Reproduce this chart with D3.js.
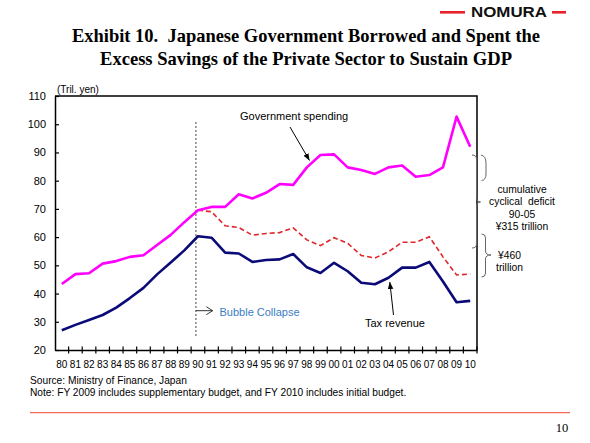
<!DOCTYPE html>
<html>
<head>
<meta charset="utf-8">
<script src="https://cdn.jsdelivr.net/npm/d3@7"></script>
<style>
  html, body { margin: 0; padding: 0; background: #fff; }
  svg { display: block; }
  text { font-family: "Liberation Sans", Arial, sans-serif; white-space: pre; }
</style>
</head>
<body>
<svg id="chart" width="590" height="443"></svg>
<script>
// ---------------- data ----------------
const years = ["80","81","82","83","84","85","86","87","88","89","90","91","92","93","94","95","96","97","98","99","00","01","02","03","04","05","06","07","08","09","10"];
const govSpending = [43.4,46.9,47.2,50.6,51.5,53.0,53.6,57.2,60.8,65.3,69.5,70.7,70.7,75.2,73.7,75.7,78.8,78.5,84.7,89.1,89.3,84.7,83.8,82.4,84.7,85.4,81.4,82.0,84.7,102.7,92.0];
const taxRevenue = [27.0,28.9,30.6,32.4,35.0,38.4,42.0,46.8,51.0,55.3,60.3,59.8,54.5,54.2,51.2,51.9,52.1,54.0,49.3,47.3,50.9,47.9,43.8,43.3,45.6,49.2,49.2,51.2,44.3,36.9,37.4];
const cyclicalRevenue = [null,null,null,null,null,null,null,null,null,null,69.5,69.0,64.0,63.4,60.7,61.3,61.6,63.3,59.0,57.0,59.8,57.8,53.5,52.6,54.8,58.2,58.2,60.1,53.0,46.6,46.9];
const yTicks = [20,30,40,50,60,70,80,90,100,110];
const bubbleYear = "90";

// ---------------- setup ----------------
const svg = d3.select("#chart");
const plot = { left: 55, right: 477, top: 96, bottom: 350 };

const x = d3.scaleBand().domain(years).range([plot.left, plot.right]).padding(0);
const y = d3.scaleLinear().domain([20, 110]).range([plot.bottom, plot.top]);
const cx = d => x(d) + x.bandwidth() / 2;

// header logo
svg.append("rect").attr("x", 440).attr("y", 11).attr("width", 25).attr("height", 2.6).attr("fill", "#e8202a");
svg.append("rect").attr("x", 552).attr("y", 11).attr("width", 14).attr("height", 2.6).attr("fill", "#e8202a");
svg.append("text").attr("x", 471).attr("y", 16.8).attr("textLength", 76).attr("lengthAdjust", "spacingAndGlyphs")
  .attr("font-size", 14.5).attr("font-weight", "bold").attr("fill", "#111").text("NOMURA");

// title
const titleLines = ["Exhibit 10.  Japanese Government Borrowed and Spent the", "Excess Savings of the Private Sector to Sustain GDP"];
const titleLens = [468, 412];
const titleY = [41.7, 64.5];
titleLines.forEach((t, i) => {
  svg.append("text").attr("x", 306).attr("y", titleY[i]).attr("text-anchor", "middle")
    .attr("textLength", titleLens[i]).attr("lengthAdjust", "spacingAndGlyphs")
    .style("font-family", '"Liberation Serif", "Times New Roman", serif')
    .attr("font-size", 19.5).attr("font-weight", "bold").attr("fill", "#000").text(t);
});

// unit label
svg.append("text").attr("x", 57).attr("y", 92.5).attr("font-size", 10).attr("fill", "#000").text("(Tril. yen)");

// frame (top & right)
svg.append("path").attr("d", `M${plot.left},${plot.top}H${plot.right}V${plot.bottom}`)
  .attr("fill", "none").attr("stroke", "#000").attr("stroke-width", 1.5);

// y axis
const yAxis = d3.axisLeft(y).tickValues(yTicks).tickSizeInner(-4).tickSizeOuter(0).tickPadding(9);
const gy = svg.append("g").attr("transform", `translate(${plot.left},0)`).call(yAxis);
gy.select(".domain").attr("stroke-width", 1.5);
gy.selectAll("line").attr("stroke-width", 1.2);
gy.selectAll("text").attr("font-size", 11).attr("fill", "#000").style("font-family", '"Liberation Sans", Arial, sans-serif');

// x axis labels
const xAxis = d3.axisBottom(x).tickSize(0).tickPadding(11);
const gx = svg.append("g").attr("transform", `translate(0,${plot.bottom})`).call(xAxis);
gx.select(".domain").attr("stroke-width", 1.5);
gx.selectAll("text").attr("font-size", 10).attr("fill", "#000").style("font-family", '"Liberation Sans", Arial, sans-serif');

// x tick marks at band boundaries (crossing the axis)
const boundaries = years.map(d => x(d)).concat([x.range()[1]]);
svg.append("g").selectAll("line").data(boundaries.slice(1)).join("line")
  .attr("x1", d => d).attr("x2", d => d)
  .attr("y1", plot.bottom - 3.5).attr("y2", plot.bottom + 3.5)
  .attr("stroke", "#000").attr("stroke-width", 1.2);

// bubble collapse dashed line
svg.append("line").attr("x1", cx(bubbleYear) - 2).attr("x2", cx(bubbleYear) - 2)
  .attr("y1", 122).attr("y2", 337)
  .attr("stroke", "#444").attr("stroke-width", 1).attr("stroke-dasharray", "2,2");

// lines
const lineGen = d3.line().defined(d => d.v != null).x(d => cx(d.yr)).y(d => y(d.v));
const toPts = arr => years.map((yr, i) => ({ yr, v: arr[i] }));

svg.append("path").datum(toPts(cyclicalRevenue)).attr("d", lineGen)
  .attr("fill", "none").attr("stroke", "#e0262b").attr("stroke-width", 1.6).attr("stroke-dasharray", "5,3");
svg.append("path").datum(toPts(govSpending)).attr("d", lineGen)
  .attr("fill", "none").attr("stroke", "#ff00ff").attr("stroke-width", 2.6).attr("stroke-linejoin", "round");
svg.append("path").datum(toPts(taxRevenue)).attr("d", lineGen)
  .attr("fill", "none").attr("stroke", "#0a0a78").attr("stroke-width", 2.6).attr("stroke-linejoin", "round");

// markers
const defs = svg.append("defs");
defs.append("marker").attr("id", "filled").attr("viewBox", "0 0 10 10").attr("refX", 10).attr("refY", 5)
  .attr("markerWidth", 7).attr("markerHeight", 7).attr("markerUnits", "userSpaceOnUse").attr("orient", "auto")
  .append("path").attr("d", "M0,1L10,5L0,9Z").attr("fill", "#000");
defs.append("marker").attr("id", "open").attr("viewBox", "0 0 10 10").attr("refX", 10).attr("refY", 5)
  .attr("markerWidth", 8).attr("markerHeight", 10).attr("markerUnits", "userSpaceOnUse").attr("orient", "auto")
  .append("path").attr("d", "M2,0L10,5L2,10").attr("fill", "none").attr("stroke", "#333").attr("stroke-width", 1.2);

// annotations
svg.append("text").attr("x", 240).attr("y", 120).attr("font-size", 11).attr("fill", "#000").text("Government spending");
svg.append("line").attr("x1", 290).attr("y1", 127).attr("x2", 309.5).attr("y2", 160.5)
  .attr("stroke", "#000").attr("stroke-width", 1).attr("marker-end", "url(#filled)");

svg.append("text").attr("x", 365).attr("y", 327.3).attr("font-size", 11).attr("fill", "#000").text("Tax revenue");
svg.append("line").attr("x1", 393.5).attr("y1", 315).attr("x2", 389.8).attr("y2", 282)
  .attr("stroke", "#000").attr("stroke-width", 1).attr("marker-end", "url(#filled)");

svg.append("line").attr("x1", cx(bubbleYear) - 2).attr("y1", 310.7).attr("x2", 212.7).attr("y2", 310.7)
  .attr("stroke", "#333").attr("stroke-width", 1).attr("marker-end", "url(#open)");
svg.append("text").attr("x", 219.5).attr("y", 315.5).attr("font-size", 11).attr("fill", "#3a7cc4").text("Bubble Collapse");

// braces
function brace(x0, xs, xt, y0, y1, ym) {
  const r = 4;
  return `M${x0},${y0} Q${xs},${y0} ${xs},${y0 + r} L${xs},${ym - r} Q${xs},${ym} ${xt},${ym} Q${xs},${ym} ${xs},${ym + r} L${xs},${y1 - r} Q${xs},${y1} ${x0},${y1}`;
}
svg.append("path").attr("d", brace(472, 476.5, 480.5, 155, 248, 202))
  .attr("fill", "none").attr("stroke", "#666").attr("stroke-width", 1);
svg.append("path").attr("d", `M481,155 Q486,156 486,163 L486,174 Q486,180 481.5,180.5`)
  .attr("fill", "none").attr("stroke", "#666").attr("stroke-width", 1);
svg.append("path").attr("d", brace(481.5, 485.5, 491, 234, 277, 255))
  .attr("fill", "none").attr("stroke", "#666").attr("stroke-width", 1);

const annot1 = ["cumulative", "cyclical  deficit", "90-05", "¥315 trillion"];
const annot1Y = [193, 205, 218, 230];
annot1.forEach((t, i) => {
  svg.append("text").attr("x", 522).attr("y", annot1Y[i]).attr("text-anchor", "middle")
    .attr("font-size", 10.3).attr("fill", "#000").text(t);
});
const annot2 = ["¥460", "trillion"];
const annot2Y = [259, 271];
annot2.forEach((t, i) => {
  svg.append("text").attr("x", 509.5).attr("y", annot2Y[i]).attr("text-anchor", "middle")
    .attr("font-size", 10.3).attr("fill", "#000").text(t);
});

// footer
svg.append("text").attr("x", 30).attr("y", 383.5).attr("font-size", 10.2).attr("fill", "#000").text("Source: Ministry of Finance, Japan");
svg.append("text").attr("x", 30).attr("y", 395.5).attr("font-size", 10.2).attr("fill", "#000")
  .text("Note: FY 2009 includes supplementary budget, and FY 2010 includes initial budget.");
svg.append("line").attr("x1", 30).attr("x2", 570).attr("y1", 412.7).attr("y2", 412.7)
  .attr("stroke", "#f26a5a").attr("stroke-width", 1.2);
svg.append("text").attr("x", 562).attr("y", 432).attr("text-anchor", "middle").attr("font-size", 12.5)
  .style("font-family", '"Liberation Serif", "Times New Roman", serif').attr("fill", "#000").text("10");
</script>
</body>
</html>
